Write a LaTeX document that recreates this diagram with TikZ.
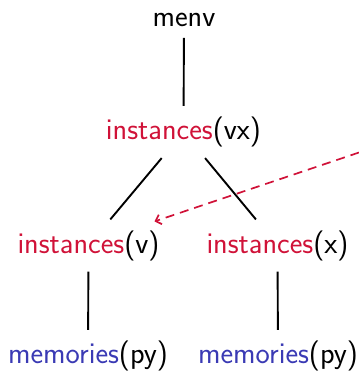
\documentclass[tikz,border=0pt]{standalone}
\usetikzlibrary{arrows.meta}
\definecolor{instred}{RGB}{208,18,56}
\definecolor{memblue}{RGB}{58,58,180}
\begin{document}
\begin{tikzpicture}[x=1pt,y=-1pt,
  lbl/.style={font=\sffamily\fontsize{30.2}{36}\selectfont, inner xsep=0pt, inner ysep=11pt, outer sep=0pt},
  edge/.style={line width=1.9pt, black},
  ptr/.style={line width=1.7pt, instred, dash pattern=on 9pt off 6pt, -{Straight Barb[length=5pt,width=10pt,line width=1.7pt]}}]
\useasboundingbox (0,0) rectangle (359,373);
\node[lbl] (menv) at (184,20) {menv};
\node[lbl] (vx) at (183.5,132) {\textcolor{instred}{instances}(vx)};
\node[lbl] (v) at (88.5,245.5) {\textcolor{instred}{instances}(v)};
\node[lbl] (x) at (277.5,245.5) {\textcolor{instred}{instances}(x)};
\node[lbl] (m1) at (88,356) {\textcolor{memblue}{memories}(py)};
\node[lbl] (m2) at (278,356) {\textcolor{memblue}{memories}(py)};
\coordinate (src) at (359,152.5);
\draw[edge] (menv) -- (vx);
\draw[edge] (vx) -- (v);
\draw[edge] (vx) -- (x);
\draw[edge] (v) -- (m1);
\draw[edge] (x) -- (m2);
\draw[ptr] (src) -- ([xshift=-5pt,yshift=-2pt]v.north east);
\end{tikzpicture}
\end{document}
